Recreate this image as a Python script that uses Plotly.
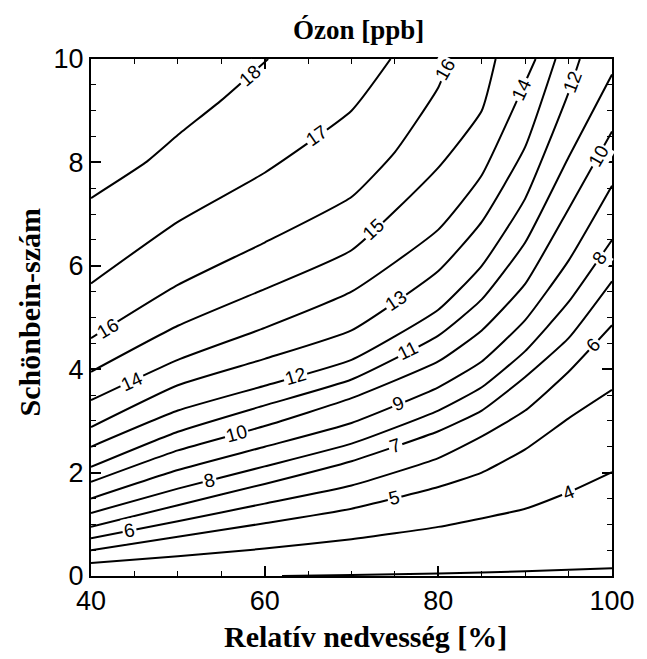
import numpy as np
import plotly.graph_objects as go

# ---- contour lines of ozone [ppb] ----
# x = relative humidity [%], y = Schönbein number
X3 = [62, 70, 80, 90, 100]
Y3 = [0.0, 0.02, 0.05, 0.09, 0.15]
X4 = [40, 50, 60, 70, 80, 90, 95, 100]
Y4 = [0.25, 0.38, 0.53, 0.71, 0.95, 1.30, 1.62, 2.01]
X5 = [40, 50, 60, 70, 80, 85, 90, 95, 100]
Y5 = [0.50, 0.76, 1.02, 1.30, 1.72, 2.00, 2.45, 3.05, 3.60]
X6 = [40, 50, 60, 70, 80, 85, 90, 95, 100]
Y6 = [0.73, 1.06, 1.40, 1.75, 2.28, 2.70, 3.20, 3.95, 4.85]
X7 = [40, 50, 60, 70, 80, 85, 90, 95, 100]
Y7 = [0.95, 1.37, 1.78, 2.22, 2.80, 3.20, 3.85, 4.60, 5.70]
X8 = [40, 50, 60, 70, 80, 85, 90, 95, 100]
Y8 = [1.22, 1.69, 2.12, 2.56, 3.20, 3.65, 4.35, 5.30, 6.50]
X9 = [40, 50, 60, 70, 80, 85, 90, 95, 100]
Y9 = [1.50, 2.05, 2.50, 2.96, 3.65, 4.15, 4.95, 6.10, 7.55]
X10 = [40, 50, 60, 70, 80, 85, 90, 95, 100]
Y10 = [1.82, 2.43, 2.90, 3.44, 4.15, 4.75, 5.65, 7.10, 8.60]
X11 = [40, 50, 60, 70, 80, 85, 90, 95, 100]
Y11 = [2.11, 2.79, 3.30, 3.80, 4.65, 5.35, 6.45, 8.10, 9.70]
X12 = [40, 50, 60, 70, 80, 85, 90, 95, 96.3]
Y12 = [2.50, 3.20, 3.68, 4.18, 5.15, 6.00, 7.30, 9.35, 10.0]
X13 = [40, 50, 60, 70, 80, 85, 90, 93.5]
Y13 = [2.88, 3.69, 4.20, 4.75, 5.90, 6.85, 8.30, 10.0]
X14 = [40, 50, 60, 70, 80, 85, 90, 91.2]
Y14 = [3.40, 4.18, 4.80, 5.50, 6.70, 7.75, 9.55, 10.0]
X15 = [40, 50, 60, 70, 80, 85, 86.6]
Y15 = [3.95, 4.84, 5.55, 6.30, 7.90, 9.00, 10.0]
X16 = [40, 50, 60, 70, 75, 80, 81.3]
Y16 = [4.60, 5.63, 6.45, 7.33, 8.20, 9.45, 10.0]
X17 = [40, 50, 60, 70, 74.5]
Y17 = [5.66, 6.85, 7.80, 9.00, 10.0]
X18 = [40, 46.3, 50, 55, 60.4]
Y18 = [7.31, 8.00, 8.53, 9.20, 10.0]

levels = [3, 4, 5, 6, 7, 8, 9, 10, 11, 12, 13, 14, 15, 16, 17, 18]
xs_all = [X3, X4, X5, X6, X7, X8, X9, X10, X11, X12, X13, X14, X15, X16, X17, X18]
ys_all = [Y3, Y4, Y5, Y6, Y7, Y8, Y9, Y10, Y11, Y12, Y13, Y14, Y15, Y16, Y17, Y18]

# label placements (level, relative humidity where the label sits)
label_levels = [4, 5, 6, 6, 7, 8, 8, 9, 10, 10, 11, 12, 12, 13, 14, 14, 15, 16, 16, 17, 18]
label_rh = [95.0, 75.0, 44.4, 97.9, 75.1, 53.6, 98.6, 75.4, 56.8, 98.4, 76.5, 63.5, 95.4,
            75.1, 44.7, 89.6, 72.5, 41.9, 80.8, 66.0, 58.3]

x_ticks = [40, 60, 80, 100]
y_ticks = [0, 2, 4, 6, 8, 10]

W, H = 647, 659
L, R, T, B = 91, 23, 59, 83
pw, ph = W - L - R, H - T - B
ppx = pw / 60.0
ppy = ph / 10.0

fig = go.Figure()
for lev, xs, ys in zip(levels, xs_all, ys_all):
    fig.add_trace(go.Scatter(x=xs, y=ys, mode="lines", name=str(lev),
                             line=dict(color="black", width=2, shape="spline", smoothing=0.45),
                             showlegend=False, hoverinfo="skip"))

lookup = dict(zip(levels, zip(xs_all, ys_all)))
annotations = []
for lev, xl in zip(label_levels, label_rh):
    xs, ys = lookup[lev]
    yl = float(np.interp(xl, xs, ys))
    y1 = float(np.interp(xl - 1.0, xs, ys))
    y2 = float(np.interp(xl + 1.0, xs, ys))
    ang = np.degrees(np.arctan2((y2 - y1) * ppy, 2.0 * ppx))
    annotations.append(dict(x=xl, y=yl, xref="x", yref="y", text=str(lev), showarrow=False,
                            textangle=-ang, bgcolor="white", borderpad=1,
                            xanchor="center", yanchor="middle",
                            font=dict(family="Liberation Sans, Arial", size=19, color="black")))

serif = "Liberation Serif, Times New Roman, serif"
annotations.append(dict(text="Relatív nedvesség [%]", xref="paper", yref="paper",
                        x=(372 - L) / pw, y=(H - B - 636) / ph, showarrow=False,
                        xanchor="center", yanchor="middle",
                        font=dict(family=serif, size=30, color="black", weight="bold")))
annotations.append(dict(text="Schönbein-szám", xref="paper", yref="paper", textangle=-90,
                        x=(28 - L) / pw, y=(H - B - 312) / ph, showarrow=False,
                        xanchor="center", yanchor="middle",
                        font=dict(family=serif, size=30, color="black", weight="bold")))
annotations.append(dict(text="Ózon [ppb]", xref="paper", yref="paper",
                        x=(365 - L) / pw, y=(H - B - 30) / ph, showarrow=False,
                        xanchor="center", yanchor="middle",
                        font=dict(family=serif, size=27, color="black", weight="bold")))

axis_common = dict(showline=True, linecolor="black", linewidth=2, mirror="ticks",
                   ticks="inside", ticklen=10, tickwidth=1.5, tickcolor="black",
                   showgrid=False, zeroline=False,
                   tickfont=dict(family="Liberation Sans, Arial", size=27, color="black"))

fig.update_layout(
    width=W, height=H,
    margin=dict(l=L, r=R, t=T, b=B),
    paper_bgcolor="white", plot_bgcolor="white",
    xaxis=dict(range=[40, 100], tickvals=x_ticks, ticktext=[str(v) for v in x_ticks],
               minor=dict(dtick=5, ticks="inside", ticklen=5, tickcolor="black", tickwidth=1.2),
               **axis_common),
    yaxis=dict(range=[0, 10], tickvals=y_ticks, ticktext=[str(v) for v in y_ticks],
               minor=dict(dtick=0.5, ticks="inside", ticklen=5, tickcolor="black", tickwidth=1.2),
               **axis_common),
    annotations=annotations,
)

fig.write_html("out.html")
